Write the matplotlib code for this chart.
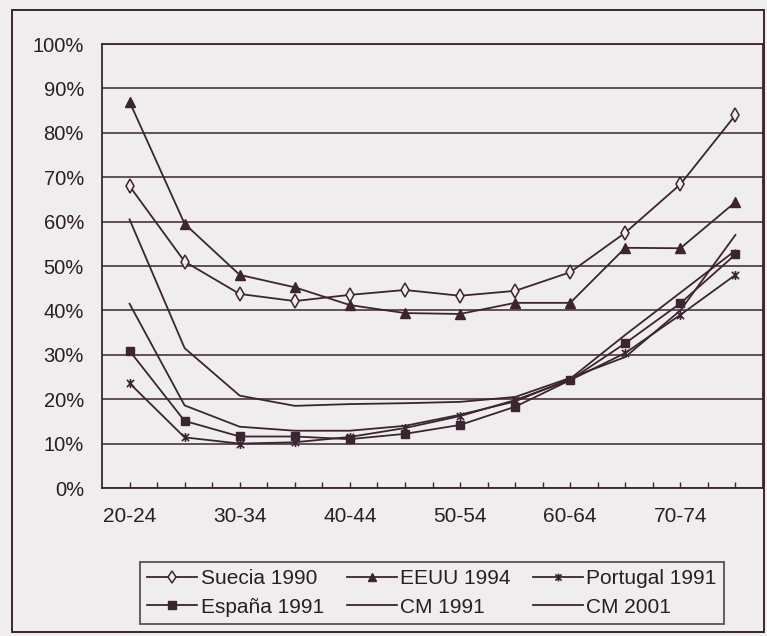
import numpy as np
import matplotlib.pyplot as plt
from matplotlib.path import Path
from matplotlib.patches import Rectangle

# grupos de edad
edades = ['20-24', '25-29', '30-34', '35-39', '40-44', '45-49',
          '50-54', '55-59', '60-64', '65-69', '70-74', '75-79']

# porcentajes
suecia_1990 = [68.0, 51.0, 43.7, 42.1, 43.5, 44.6, 43.3, 44.4, 48.6, 57.5, 68.4, 84.0]
eeuu_1994 = [87.0, 59.5, 48.0, 45.2, 41.2, 39.4, 39.2, 41.7, 41.7, 54.1, 54.0, 64.4]
portugal_1991 = [23.6, 11.4, 10.0, 10.3, 11.5, 13.5, 16.2, 19.8, 24.3, 30.4, 39.0, 48.0]
espana_1991 = [30.9, 15.1, 11.6, 11.6, 11.0, 12.2, 14.2, 18.3, 24.3, 32.6, 41.6, 52.6]
cm_1991 = [41.5, 18.6, 13.8, 12.9, 12.9, 14.0, 16.5, 19.5, 24.6, 34.5, 44.0, 53.5]
cm_2001 = [60.5, 31.5, 20.8, 18.5, 18.9, 19.1, 19.4, 20.5, 24.8, 29.5, 40.0, 57.0]

bg = '#efedee'
ink = '#3b2530'

plt.rcParams['font.family'] = ['Liberation Sans', 'DejaVu Sans']

# estrella tipo Excel: aspa + barra vertical
estrella = Path([(0, -1), (0, 1), (-0.8, -0.8), (0.8, 0.8), (-0.8, 0.8), (0.8, -0.8)],
                [Path.MOVETO, Path.LINETO, Path.MOVETO, Path.LINETO, Path.MOVETO, Path.LINETO])

fig = plt.figure(figsize=(7.67, 6.36), dpi=100, facecolor=bg)
ax = fig.add_axes([102/767, 1-488/636, 661/767, 444/636])
ax.set_facecolor(bg)

x = np.arange(len(edades))
lw = 1.3
l1, = ax.plot(x, suecia_1990, color=ink, lw=lw, marker='d', ms=7, mfc=bg, mec=ink, mew=1.1, label='Suecia 1990', zorder=5)
l2, = ax.plot(x, eeuu_1994, color=ink, lw=lw, marker='^', ms=6.5, mfc=ink, mec=ink, label='EEUU 1994', zorder=5)
l3, = ax.plot(x, portugal_1991, color=ink, lw=lw, marker=estrella, ms=6.5, mec=ink, mew=1.2, label='Portugal 1991', zorder=5)
l4, = ax.plot(x, espana_1991, color=ink, lw=lw, marker='s', ms=6, mfc=ink, mec=ink, label='España 1991', zorder=5)
l5, = ax.plot(x, cm_1991, color=ink, lw=lw, label='CM 1991', zorder=4)
l6, = ax.plot(x, cm_2001, color=ink, lw=lw, label='CM 2001', zorder=4)

ax.set_xlim(-0.5, 11.5)
ax.set_ylim(0, 100)
ax.set_yticks(np.arange(0, 101, 10))
ax.set_yticklabels([f'{v}%' for v in range(0, 101, 10)])
ax.grid(axis='y', color=ink, lw=1.1)
ax.set_axisbelow(True)

pos = np.arange(0, 11.01, 0.5)
ax.set_xticks(pos)
ax.set_xticklabels([edades[int(p)] if p == int(p) and int(p) % 2 == 0 else '' for p in pos])
ax.tick_params(axis='x', direction='in', length=4.5, width=1, color=ink, pad=14, labelsize=15, labelcolor='#2a1d23')
ax.tick_params(axis='y', length=0, pad=13, labelsize=14.5, labelcolor='#2a1d23')
for s in ax.spines.values():
    s.set_color(ink)
    s.set_linewidth(1.3)

leg = fig.legend([l1, l4, l2, l5, l3, l6],
                 ['Suecia 1990', 'España 1991', 'EEUU 1994', 'CM 1991', 'Portugal 1991', 'CM 2001'],
                 ncol=3, loc='center', bbox_to_anchor=(432/767, 1-593/636),
                 fontsize=15, frameon=True, fancybox=False, borderpad=0.35,
                 handlelength=2.4, handletextpad=0.15, columnspacing=1.1,
                 labelspacing=0.45, borderaxespad=0, markerscale=0.85)
leg.get_frame().set_edgecolor(ink)
leg.get_frame().set_linewidth(1.3)
leg.get_frame().set_facecolor(bg)
for t in leg.get_texts():
    t.set_color('#2a1d23')

fig.patches.append(Rectangle((12/767, 1-632/636), 752/767, 622/636, transform=fig.transFigure,
                             fill=False, edgecolor=ink, lw=1.4))

fig.savefig('out.png', dpi=100, facecolor=bg)
